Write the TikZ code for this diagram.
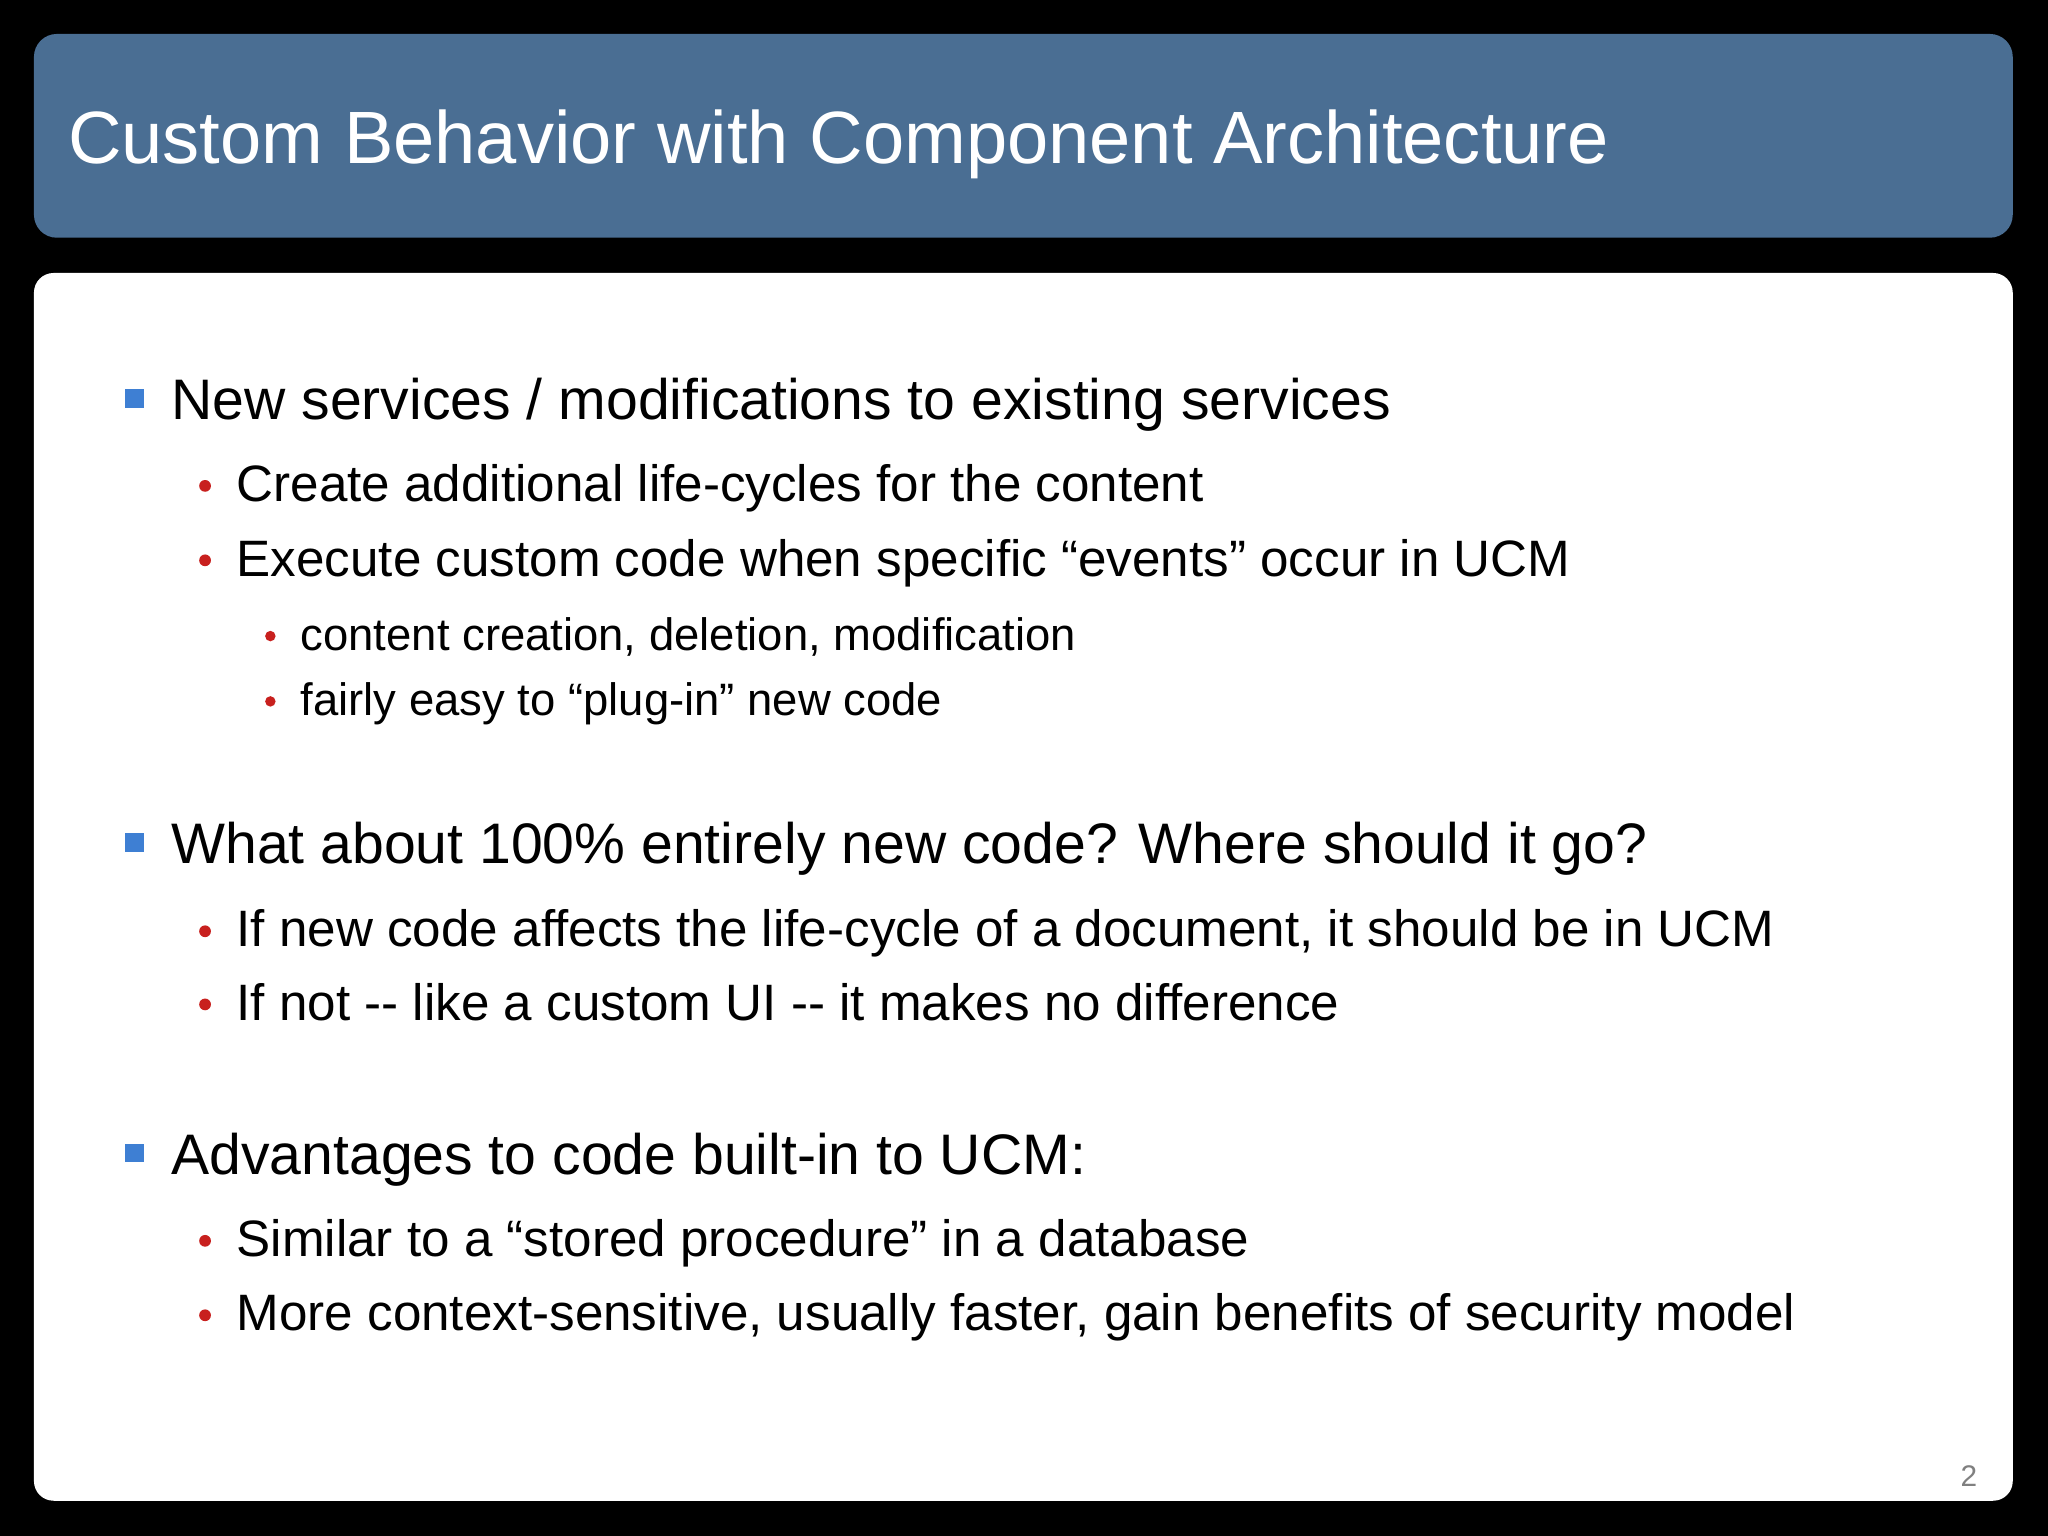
\documentclass[tikz,border=0pt]{standalone}
\usepackage{fontspec}
\setmainfont{Liberation Sans}
\definecolor{hdr}{HTML}{4A6E93}
\definecolor{sq}{HTML}{3E7FD3}
\definecolor{dot}{HTML}{C8201E}
\begin{document}
\begin{tikzpicture}[x=0.02cm,y=-0.02cm,
  l1/.style={anchor=base west,font=\fontsize{24.9}{29}\selectfont},
  l2/.style={anchor=base west,font=\fontsize{22.3}{26}\selectfont},
  l3/.style={anchor=base west,font=\fontsize{19.8}{23}\selectfont},
  sqb/.style={fill=sq,draw=none},
  rdot/.style={fill=dot,draw=none}]
\fill[black] (0,0) rectangle (1568,1176);
\useasboundingbox (0,0) rectangle (1568,1176);
\fill[hdr,rounded corners=0.35cm] (26,26) rectangle (1541,182);
\fill[white,rounded corners=0.3cm] (26,209) rectangle (1541,1149);
\node[anchor=base west,text=white,font=\fontsize{32.3}{38}\selectfont] (title) at (46,125) {Custom Behavior with Component Architecture};
% level 1
\foreach \y/\t [count=\i] in {305/{New services / modifications to existing services},645/{What about 100\% entirely new code? Where should it go?},883/{Advantages to code built-in to UCM:}}{
  \fill[sqb] (96,\y-7) rectangle (110,\y+7);
  \node[l1] (a\i) at (125,\y+16) {\t};
}
\foreach \y/\t [count=\i] in {370/{Create additional life-cycles for the content},427/{Execute custom code when specific “events” occur in UCM},711/{If new code affects the life-cycle of a document, it should be in UCM},767/{If not -{}- like a custom UI -{}- it makes no difference},948/{Similar to a “stored procedure” in a database},1005/{More context-sensitive, usually faster, gain benefits of security model}}{
  \fill[rdot] (157,\y+2) circle (4.5);
  \node[l2] (b\i) at (175,\y+14) {\t};
}
\foreach \y/\t [count=\i] in {486/{content creation, deletion, modification},536/{fairly easy to “plug-in” new code}}{
  \fill[rdot] (207,\y+1) circle (4);
  \node[l3] (c\i) at (224,\y+12) {\t};
}
\node[anchor=base east,text=gray,font=\fontsize{13}{15}\selectfont] (pg) at (1520,1138) {2};
\end{tikzpicture}
\end{document}
